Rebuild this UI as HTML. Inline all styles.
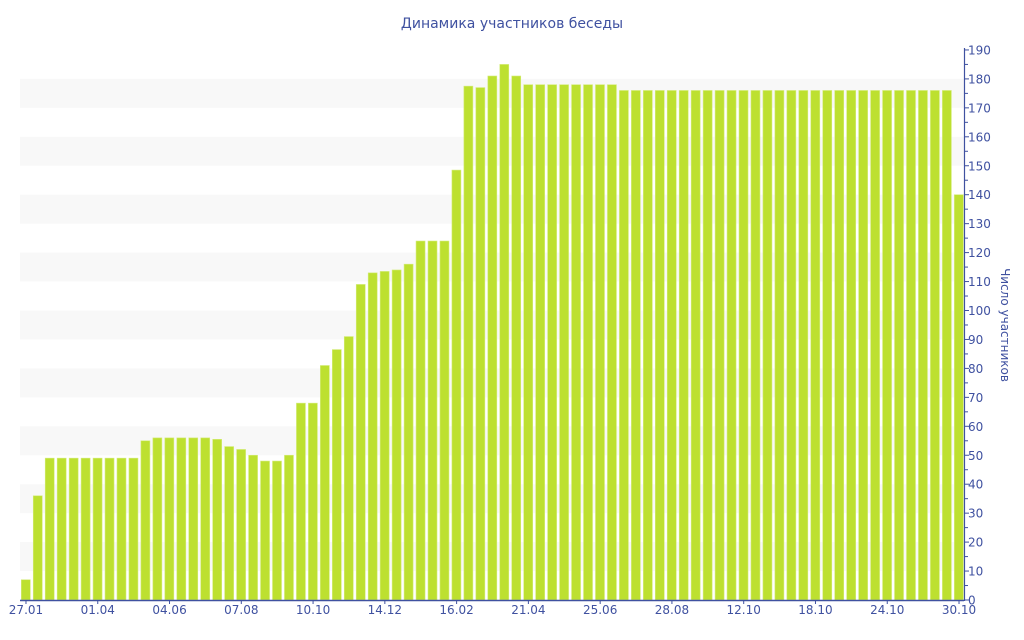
<!DOCTYPE html>
<html><head><meta charset="utf-8"><style>
html,body{margin:0;padding:0;background:#fff;}
svg{display:block;font-family:"DejaVu Sans","Liberation Sans",sans-serif;}
</style></head><body>
<svg id="c" width="1024" height="640" viewBox="0 0 1024 640" xmlns="http://www.w3.org/2000/svg">
<text x="512" y="28" text-anchor="middle" font-size="14" fill="#3f51a0">Динамика участников беседы</text>
<g id="bands"></g><g id="bars"></g><g id="axis"></g>
<text transform="translate(1001,325) rotate(90)" text-anchor="middle" font-size="12" fill="#3f51a0">Число участников</text>
</svg>
<script>
var NS="http://www.w3.org/2000/svg";
function el(p,t,a,txt){var e=document.createElementNS(NS,t);for(var k in a)e.setAttribute(k,a[k]);if(txt!=null)e.textContent=txt;document.getElementById(p).appendChild(e);}
function Y(v){return 600-v*2.895;}
for(var v=10;v<=170;v+=20){el("bands","rect",{x:20,y:Y(v+10),width:944,height:2.895*10,fill:"#f8f8f8"});}
var vals=[7,36,49,49,49,49,49,49,49,49,55,56,56,56,56,56,55.5,53,52,50,48,48,50,68,68,81,86.5,91,109,113,113.5,114,116,124,124,124,148.5,177.5,177,181,185,181,178,178,178,178,178,178,178,178];
while(vals.length<78)vals.push(176);vals.push(140);
var p=945/79;
for(var i=0;i<vals.length;i++){var x=20+i*p+1.3;el("bars","rect",{x:x.toFixed(2),y:Y(vals[i]).toFixed(2),width:9,height:(vals[i]*2.895).toFixed(2),fill:"#bde030",stroke:"#d4ec7a","stroke-width":0.6});}
el("axis","line",{x1:20,y1:600.5,x2:964,y2:600.5,stroke:"#3f51a0","stroke-width":1.5});
el("axis","line",{x1:964.5,y1:48,x2:964.5,y2:601,stroke:"#3f51a0","stroke-width":1.2});
for(var v=0;v<=190;v+=5){var y=Y(v);el("axis","line",{x1:964,y1:y,x2:v%10?968:969,y2:y,stroke:"#3f51a0","stroke-width":1});
if(v%10==0)el("axis","text",{x:968,y:y+4.5,"font-size":12,fill:"#3f51a0"},String(v));}
var labs=[[0,"27.01"],[6,"01.04"],[12,"04.06"],[18,"07.08"],[24,"10.10"],[30,"14.12"],[36,"16.02"],[42,"21.04"],[48,"25.06"],[54,"28.08"],[60,"12.10"],[66,"18.10"],[72,"24.10"],[78,"30.10"]];
labs.forEach(function(l){var x=20+(l[0]+0.5)*p;el("axis","line",{x1:x,y1:600,x2:x,y2:604,stroke:"#3f51a0"});
el("axis","text",{x:x,y:614,"font-size":12,"text-anchor":"middle",fill:"#3f51a0"},l[1]);});
</script>
</body></html>
